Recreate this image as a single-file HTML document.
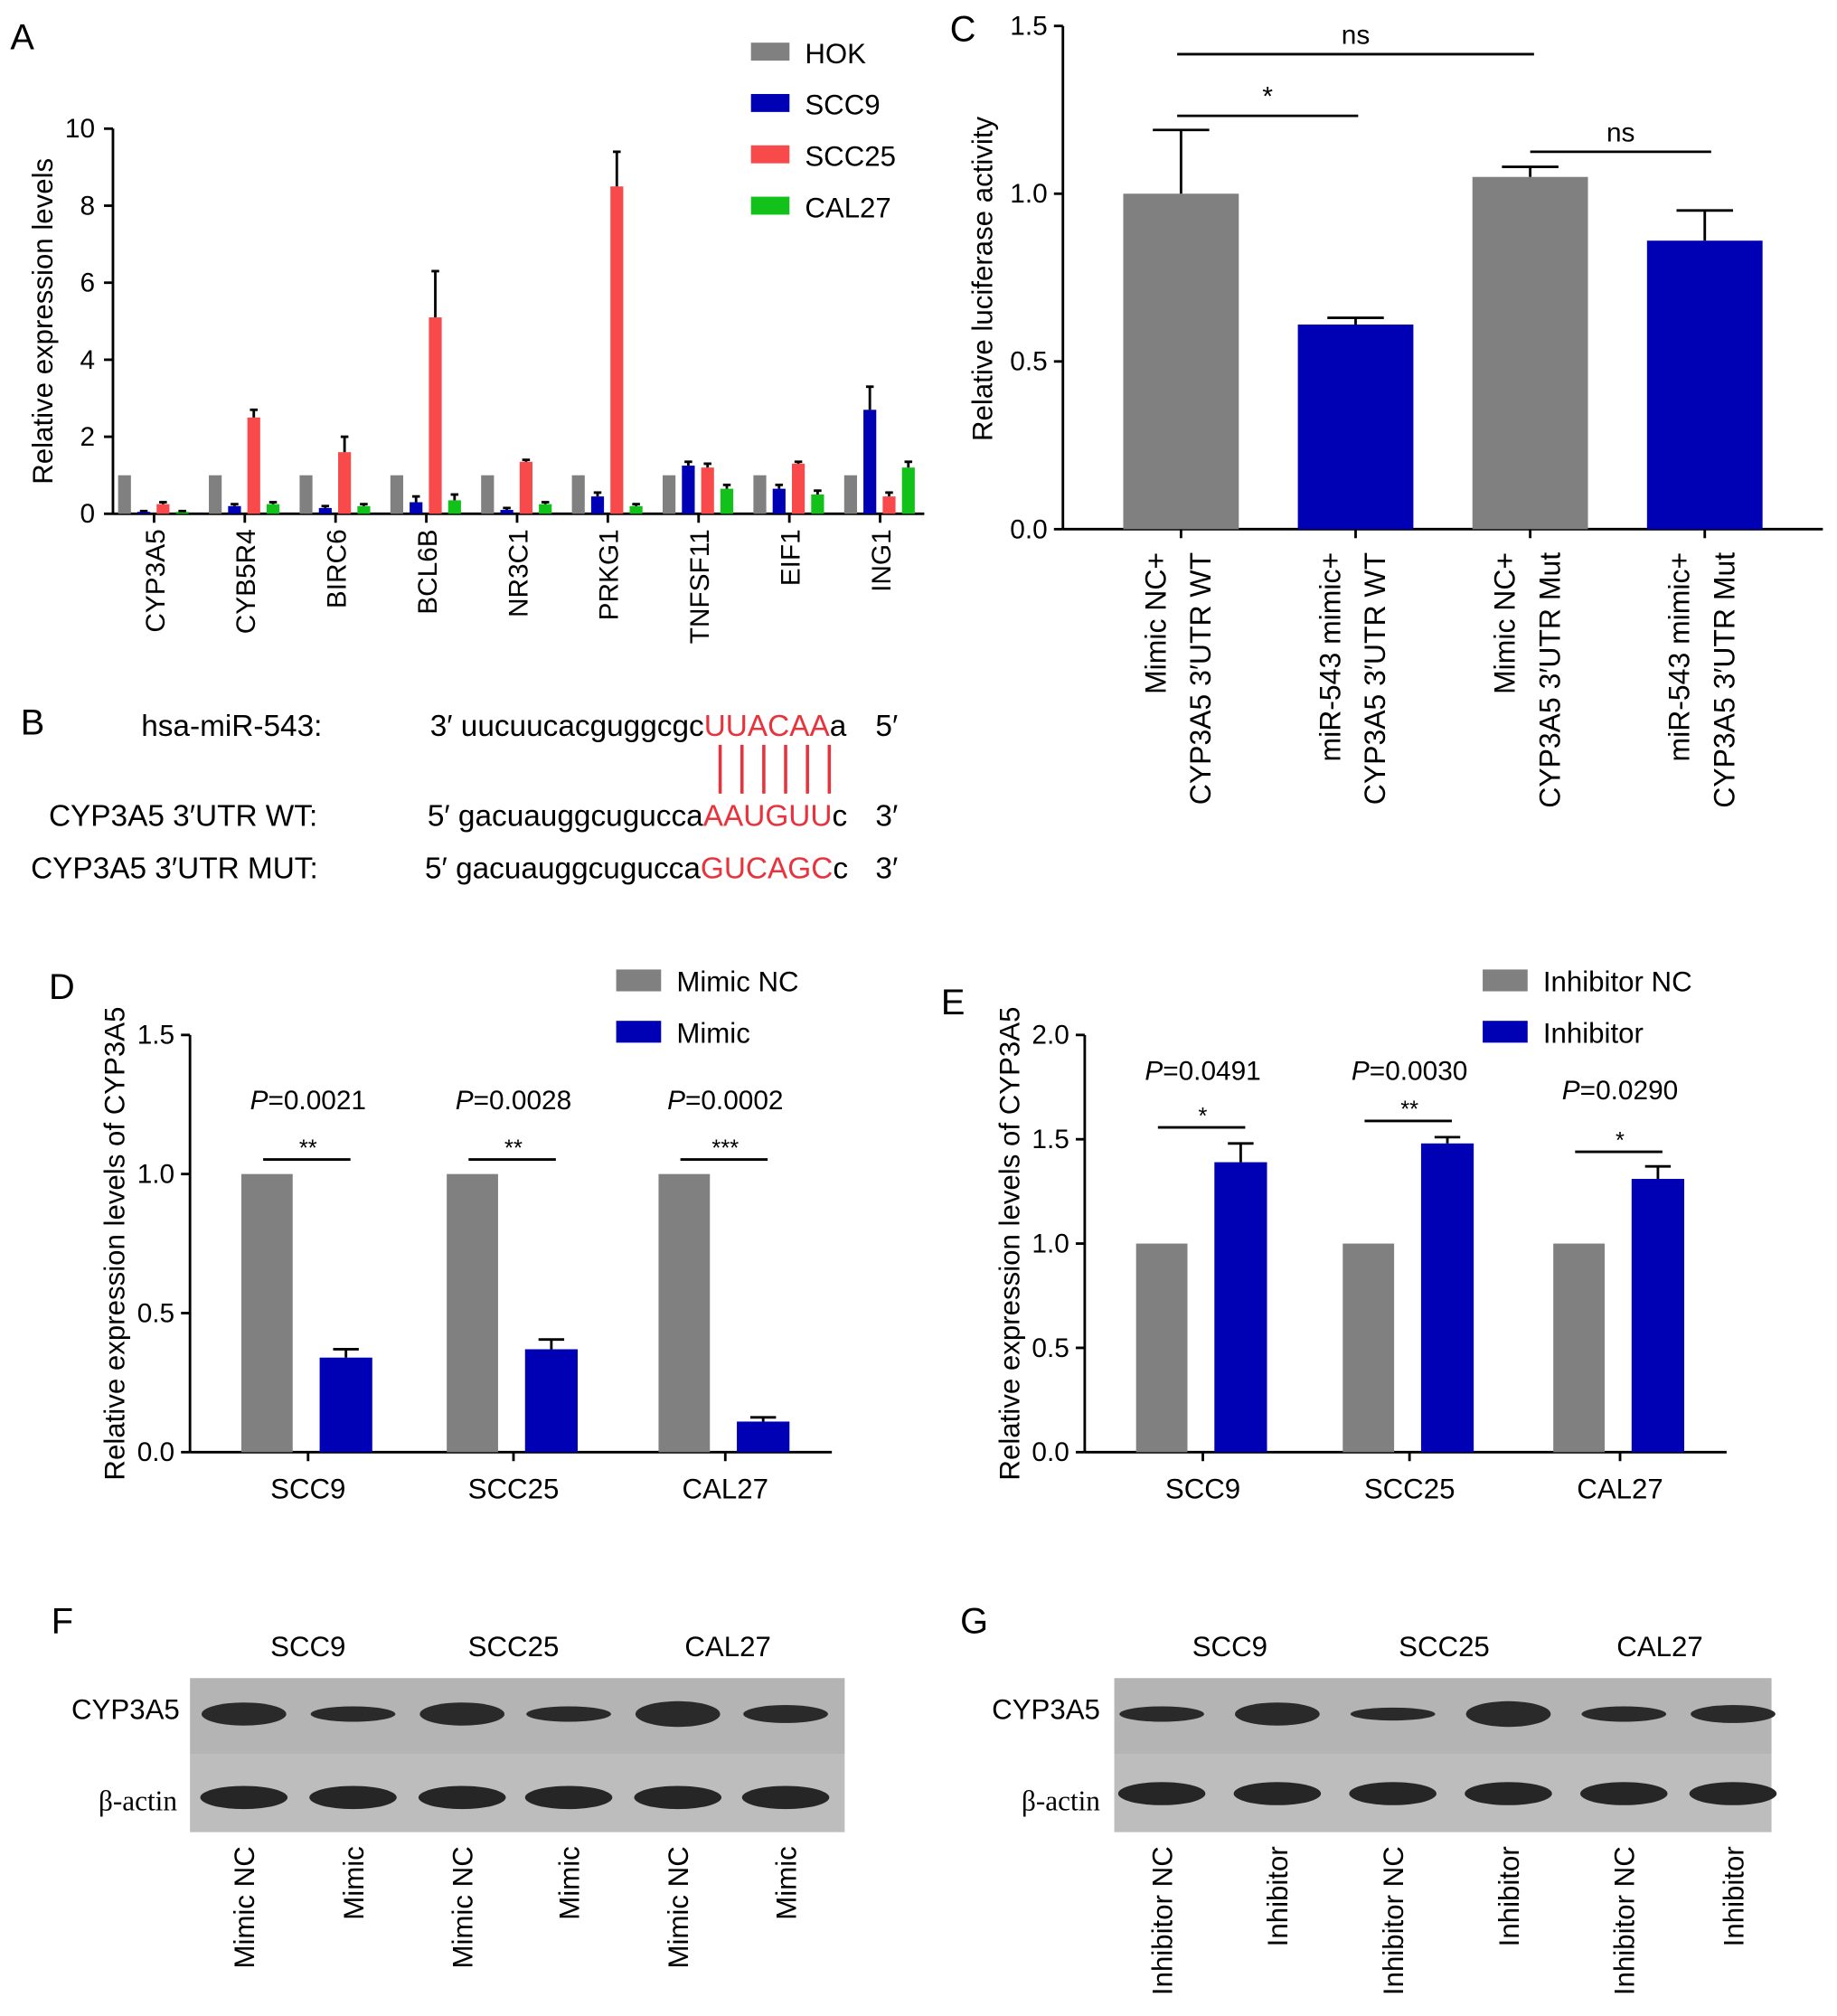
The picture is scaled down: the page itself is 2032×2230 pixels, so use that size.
<!DOCTYPE html>
<html><head><meta charset="utf-8"><style>
html,body{margin:0;padding:0;background:#fff;}
svg{display:block;font-family:"Liberation Sans",Arial,sans-serif;}
</style></head><body>
<svg id="fig" width="2032" height="2230" viewBox="0 0 1431 1570" xmlns="http://www.w3.org/2000/svg">
<g id="gA"></g>
<g id="gB"></g>
<g id="gC"></g>
<g id="gD"></g>
<g id="gE"></g>
<g id="gF"></g>
<g id="gG"></g>
</svg>
<script>
// Panel A data
const aGenes=["CYP3A5","CYB5R4","BIRC6","BCL6B","NR3C1","PRKG1","TNFSF11","EIF1","ING1"];
const aHOK=[1,1,1,1,1,1,1,1,1];
const aSCC9=[0.05,0.2,0.15,0.3,0.1,0.45,1.25,0.65,2.7];
const aSCC25=[0.25,2.5,1.6,5.1,1.35,8.5,1.2,1.3,0.45];
const aCAL27=[0.05,0.25,0.2,0.35,0.25,0.2,0.65,0.5,1.2];
const aErrSCC9=[0.02,0.05,0.05,0.15,0.05,0.1,0.1,0.1,0.6];
const aErrSCC25=[0.05,0.2,0.4,1.2,0.05,0.9,0.1,0.05,0.1];
const aErrCAL27=[0.02,0.05,0.05,0.15,0.05,0.05,0.1,0.1,0.15];
const aTicks=[0,2,4,6,8,10];
// Panel C data
const cLabels=[["Mimic NC+","CYP3A5 3′UTR WT"],["miR-543 mimic+","CYP3A5 3′UTR WT"],["Mimic NC+","CYP3A5 3′UTR Mut"],["miR-543 mimic+","CYP3A5 3′UTR Mut"]];
const cValues=[1.0,0.61,1.05,0.86];
const cErr=[0.19,0.02,0.03,0.09];
const cTicks=[0,0.5,1.0,1.5];
// Panel D data
const dCats=["SCC9","SCC25","CAL27"];
const dNC=[1,1,1];
const dMimic=[0.34,0.37,0.11];
const dErr=[0.03,0.035,0.015];
const dP=["0.0021","0.0028","0.0002"];
const dStars=["**","**","***"];
const dTicks=[0,0.5,1.0,1.5];
// Panel E data
const eCats=["SCC9","SCC25","CAL27"];
const eNC=[1,1,1];
const eInh=[1.39,1.48,1.31];
const eErr=[0.09,0.03,0.06];
const eP=["0.0491","0.0030","0.0290"];
const eStars=["*","**","*"];
const eTicks=[0,0.5,1.0,1.5,2.0];

const NS="http://www.w3.org/2000/svg";
function el(parent,tag,attrs,text){const e=document.createElementNS(NS,tag);for(const k in attrs)e.setAttribute(k,attrs[k]);if(text!==undefined)e.textContent=text;parent.appendChild(e);return e;}
const GRAY="#808080",BLUE="#0000b4",RED="#f84a4a",GREEN="#12c21a";

// ---------- Panel A ----------
(function(){
const g=document.getElementById('gA');
const x0=88,x1=720,yb=400,yt=100,vmax=10;
const y=v=>yb-(v/vmax)*(yb-yt);
const gx=i=>92+i*70.7;
let t=el(g,'text',{x:8,y:38,'font-size':28},'A');

el(g,'line',{x1:x0,y1:yt,x2:x0,y2:yb,stroke:'#000','stroke-width':2});
el(g,'line',{x1:x0,y1:yb,x2:x1,y2:yb,stroke:'#000','stroke-width':2});
aTicks.forEach(v=>{el(g,'line',{x1:x0-7,y1:y(v),x2:x0,y2:y(v),stroke:'#000','stroke-width':2});
 const tt=el(g,'text',{x:x0-14,y:y(v)+7,'font-size':21,'text-anchor':'end'},v);
 });
t=el(g,'text',{transform:`translate(41,250) rotate(-90)`,'font-size':22,'text-anchor':'middle'},'Relative expression levels');

const series=[[aHOK,null,GRAY],[aSCC9,aErrSCC9,BLUE],[aSCC25,aErrSCC25,RED],[aCAL27,aErrCAL27,GREEN]];
aGenes.forEach((name,i)=>{
 series.forEach((s,k)=>{
  const bx=gx(i)+k*15, v=s[0][i];
  const r=el(g,'rect',{x:bx,y:y(v),width:10,height:yb-y(v),fill:s[2]});
  
  if(s[1]){const ey=y(v+s[1][i]);el(g,'line',{x1:bx+5,y1:ey,x2:bx+5,y2:y(v),stroke:'#000','stroke-width':2});el(g,'line',{x1:bx+2,y1:ey,x2:bx+8,y2:ey,stroke:'#000','stroke-width':2});}
 });
 const cx=gx(i)+28;
 el(g,'line',{x1:cx,y1:yb,x2:cx,y2:yb+7,stroke:'#000','stroke-width':2});
 const l=el(g,'text',{transform:`translate(${cx+8},${yb+12}) rotate(-90)`,'font-size':21,'text-anchor':'end'},name);
 
});
const leg=[["HOK",GRAY],["SCC9",BLUE],["SCC25",RED],["CAL27",GREEN]];
leg.forEach((L,k)=>{const yy=33+k*40;
 const r=el(g,'rect',{x:585,y:yy,width:30,height:14,fill:L[1]});
 const tt=el(g,'text',{x:627,y:yy+16,'font-size':22},L[0]);});
})();

// ---------- Panel B ----------
(function(){
const g=document.getElementById('gB');
const t=el(g,'text',{x:16,y:572,'font-size':28},'B');
function row(y,label,lx,prefix,seq,red,tail,end,sx){
 const a=el(g,'text',{x:lx,y:y,'font-size':23.5},label);
 const s=el(g,'text',{x:sx,y:y,'font-size':23.5});
 el(s,'tspan',{},prefix+seq);el(s,'tspan',{fill:'#e8323c'},red);el(s,'tspan',{},tail);
 el(g,'text',{x:682,y:y,'font-size':23.5},end);
}
row(573,'hsa-miR-543:',110,'3′ ','uucuucacguggcgc','UUACAA','a','5′',335);
row(643,'CYP3A5 3′UTR WT:',38,'5′ ','gacuauggcugucca','AAUGUU','c','3′',333);
row(684,'CYP3A5 3′UTR MUT:',24,'5′ ','gacuauggcugucca','GUCAGC','c','3′',331);
for(let i=0;i<6;i++){const x=561+i*17;el(g,'line',{x1:x,y1:580,x2:x,y2:618,stroke:'#e8323c','stroke-width':2.5});}
})();

// ---------- Panel C ----------
(function(){
const g=document.getElementById('gC');
const x0=828,x1=1420,yb=412,yt=20,vmax=1.5;
const y=v=>yb-(v/vmax)*(yb-yt);
const cx=i=>920+i*136;
let t=el(g,'text',{x:740,y:32,'font-size':28},'C');
el(g,'line',{x1:x0,y1:yt,x2:x0,y2:yb,stroke:'#000','stroke-width':2});
el(g,'line',{x1:x0,y1:yb,x2:x1,y2:yb,stroke:'#000','stroke-width':2});
cTicks.forEach(v=>{el(g,'line',{x1:x0-7,y1:y(v),x2:x0,y2:y(v),stroke:'#000','stroke-width':2});
 const tt=el(g,'text',{x:x0-12,y:y(v)+7,'font-size':21,'text-anchor':'end'},v.toFixed(1));});
t=el(g,'text',{transform:`translate(773,217) rotate(-90)`,'font-size':22,'text-anchor':'middle'},'Relative luciferase activity');

cValues.forEach((v,i)=>{const c=cx(i);
 const r=el(g,'rect',{x:c-45,y:y(v),width:90,height:yb-y(v),fill:i%2?BLUE:GRAY});
 const ey=y(v+cErr[i]);el(g,'line',{x1:c,y1:ey,x2:c,y2:y(v),stroke:'#000','stroke-width':2});el(g,'line',{x1:c-22,y1:ey,x2:c+22,y2:ey,stroke:'#000','stroke-width':2});
 el(g,'line',{x1:c,y1:yb,x2:c,y2:yb+7,stroke:'#000','stroke-width':2});
 cLabels[i].forEach((s,k)=>{const tt=el(g,'text',{transform:`translate(${c-12+k*35},${yb+18}) rotate(-90)`,'font-size':22.5,'text-anchor':'end'},s);});
});
function br(xa,xb,yy,lab){el(g,'line',{x1:xa,y1:yy,x2:xb,y2:yy,stroke:'#000','stroke-width':2});const tt=el(g,'text',{x:(xa+xb)/2,y:yy-8,'font-size':21,'text-anchor':'middle'},lab);}
br(917,1195,42,'ns');br(917,1058,90,'*');br(1192,1333,118,'ns');
})();

// ---------- grouped panels D/E ----------
function grouped(gid,letter,lx,ly,x0,x1,yb,yt,vmax,ticks,cats,ctr,ncv,tv,err,P,stars,pY,barY,titleX,legNames,legX,legY){
 const g=document.getElementById(gid);
 const y=v=>yb-(v/vmax)*(yb-yt);
 let t=el(g,'text',{x:lx,y:ly,'font-size':28},letter);
 el(g,'line',{x1:x0,y1:yt,x2:x0,y2:yb,stroke:'#000','stroke-width':2});
 el(g,'line',{x1:x0,y1:yb,x2:x1,y2:yb,stroke:'#000','stroke-width':2});
 ticks.forEach(v=>{el(g,'line',{x1:x0-7,y1:y(v),x2:x0,y2:y(v),stroke:'#000','stroke-width':2});
  const tt=el(g,'text',{x:x0-12,y:y(v)+7,'font-size':21,'text-anchor':'end'},v.toFixed(1));});
 t=el(g,'text',{transform:`translate(${titleX},${(yt+yb)/2}) rotate(-90)`,'font-size':22,'text-anchor':'middle'},'Relative expression levels of CYP3A5');
 
 cats.forEach((c,i)=>{const m=ctr[i];
  let r=el(g,'rect',{x:m-52,y:y(ncv[i]),width:40,height:yb-y(ncv[i]),fill:GRAY});
  r=el(g,'rect',{x:m+9,y:y(tv[i]),width:41,height:yb-y(tv[i]),fill:BLUE});
  const bc=m+29.5,ey=y(tv[i]+err[i]);
  el(g,'line',{x1:bc,y1:ey,x2:bc,y2:y(tv[i]),stroke:'#000','stroke-width':2});el(g,'line',{x1:bc-10,y1:ey,x2:bc+10,y2:ey,stroke:'#000','stroke-width':2});
  el(g,'line',{x1:m,y1:yb,x2:m,y2:yb+7,stroke:'#000','stroke-width':2});
  let tt=el(g,'text',{x:m,y:yb+36,'font-size':22,'text-anchor':'middle'},c);
  tt=el(g,'text',{x:m,y:pY[i],'font-size':21,'text-anchor':'middle'});
  el(tt,'tspan',{'font-style':'italic'},'P');el(tt,'tspan',{},'='+P[i]);
  el(g,'line',{x1:m-35,y1:barY[i],x2:m+33,y2:barY[i],stroke:'#000','stroke-width':2});
  tt=el(g,'text',{x:m,y:barY[i]-3,'font-size':18,'text-anchor':'middle'},stars[i]);
 });
 legNames.forEach((n,k)=>{const yy=legY+k*40;
  const r=el(g,'rect',{x:legX,y:yy,width:35,height:17,fill:k?BLUE:GRAY});
  const tt=el(g,'text',{x:legX+47,y:yy+17,'font-size':22},n);});
}
grouped('gD','D',38,778,148,648,1131,806,1.5,dTicks,dCats,[240,400,565],dNC,dMimic,dErr,dP,dStars,[864,864,864],[903,903,903],97,["Mimic NC","Mimic"],480,755);
grouped('gE','E',733,790,845,1345,1131,806,2.0,eTicks,eCats,[937,1098,1262],eNC,eInh,eErr,eP,eStars,[841,841,856],[878,873,897],794,["Inhibitor NC","Inhibitor"],1155,755);

// ---------- Blots ----------
function blot(gid,letter,lx,x0,x1,cats,catX,lanes,laneX,top,row1,prot,act,protX,actX){
 const g=document.getElementById(gid);
 let t=el(g,'text',{x:lx,y:1272,'font-size':28},letter);
 cats.forEach((c,i)=>{const tt=el(g,'text',{x:catX[i],y:1290,'font-size':22,'text-anchor':'middle'},c);});
 let r=el(g,'rect',{x:x0,y:top,width:x1-x0,height:row1-top,fill:'#b4b4b4'});
 r=el(g,'rect',{x:x0,y:row1,width:x1-x0,height:1427-row1,fill:'#bdbdbd'});
 t=el(g,'text',{x:protX,y:top+32,'font-size':22,'text-anchor':'end'},'CYP3A5');
 t=el(g,'text',{x:actX,y:1410,'font-size':22,'text-anchor':'end','font-family':'Liberation Serif, serif'},'β-actin');
 laneX.forEach((x,i)=>{
  const b=el(g,'ellipse',{cx:x,cy:top+28,rx:33,ry:prot[i],fill:'#2a2a2a'});
  const a=el(g,'ellipse',{cx:x,cy:act,rx:34,ry:9,fill:'#262626'});
  const tt=el(g,'text',{transform:`translate(${x+8},1438) rotate(-90)`,'font-size':22,'text-anchor':'end'},lanes[i]);
 });
}
blot('gF','F',40,148,658,["SCC9","SCC25","CAL27"],[240,400,567],["Mimic NC","Mimic","Mimic NC","Mimic","Mimic NC","Mimic"],[190,275,360,443,528,612],1307,1366,[9,6,9,6,10,7],1400,140,138);
blot('gG','G',748,868,1380,["SCC9","SCC25","CAL27"],[958,1125,1293],["Inhibitor NC","Inhibitor","Inhibitor NC","Inhibitor","Inhibitor NC","Inhibitor"],[905,995,1085,1175,1265,1350],1307,1366,[6,9,5,10,6,7],1397,857,857);
</script>
</body></html>
